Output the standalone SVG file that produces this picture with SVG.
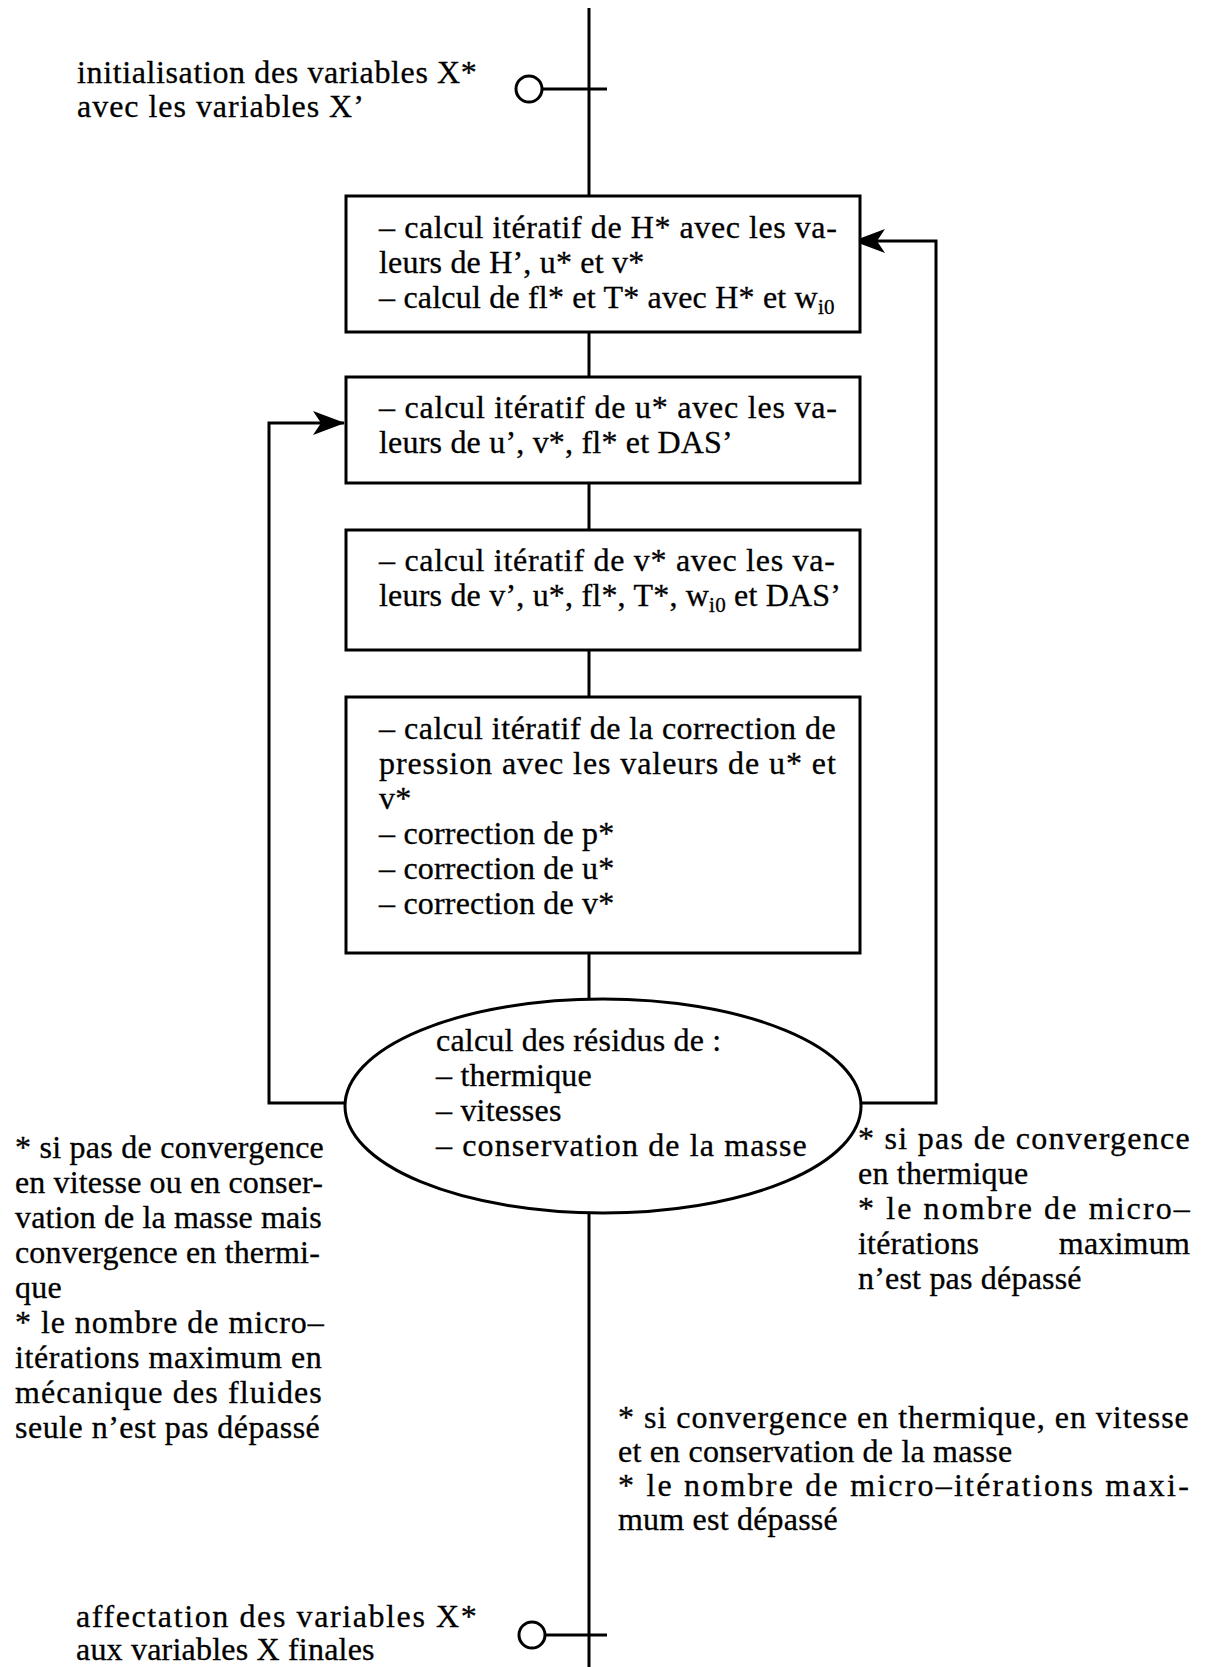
<svg xmlns="http://www.w3.org/2000/svg" width="1205" height="1667" viewBox="0 0 1205 1667">
<style>
.t{font-family:"Liberation Serif","Times New Roman",serif;font-size:32px;fill:#000;stroke:#000;stroke-width:0.3px;letter-spacing:0.2px}
.sub{font-size:21px}
.box{fill:#fff;stroke:#000;stroke-width:3}
.ln{fill:none;stroke:#000;stroke-width:3}
</style>
<defs>
<marker id="ah" viewBox="0 0 32 26" refX="31" refY="13" markerWidth="32" markerHeight="26" markerUnits="userSpaceOnUse" orient="auto">
<path d="M0,1 L32,13 L0,25 L8,13 Z" fill="#000"/>
</marker>
</defs>
<rect width="1205" height="1667" fill="#fff"/>

<g id="connectors">
<path class="ln" d="M589,8 V196"/>
<path class="ln" d="M589,332 V377"/>
<path class="ln" d="M589,483 V530"/>
<path class="ln" d="M589,650 V697"/>
<path class="ln" d="M589,953 V1000"/>
<path class="ln" d="M589,1212 V1667"/>
<path class="ln" d="M542,89 H607"/>
<path class="ln" d="M545,1635 H607"/>
<path class="ln" d="M345,1103 H269 V423 H344" marker-end="url(#ah)"/>
<path class="ln" d="M862,1103 H936 V241 H854" marker-end="url(#ah)"/>
</g>

<g id="start">
<circle cx="529" cy="89" r="13" fill="#fff" stroke="#000" stroke-width="3"/>
<text class="t" x="77" y="83" textLength="400" lengthAdjust="spacing">initialisation des variables X*</text>
<text class="t" x="77" y="117" textLength="287" lengthAdjust="spacing">avec les variables X’</text>
</g>

<g id="box1">
<rect class="box" x="346" y="196" width="514" height="136"/>
<text class="t" x="379" y="238" textLength="458" lengthAdjust="spacing">– calcul itératif de H* avec les va-</text>
<text class="t" x="379" y="273">leurs de  H’, u* et v*</text>
<text class="t" x="379" y="308">– calcul de fl* et T* avec H* et w<tspan class="sub" dy="6">i0</tspan></text>
</g>

<g id="box2">
<rect class="box" x="346" y="377" width="514" height="106"/>
<text class="t" x="379" y="418" textLength="458" lengthAdjust="spacing">– calcul itératif de u* avec les va-</text>
<text class="t" x="379" y="453">leurs de u’, v*, fl* et DAS’</text>
</g>

<g id="box3">
<rect class="box" x="346" y="530" width="514" height="120"/>
<text class="t" x="379" y="571" textLength="456" lengthAdjust="spacing">– calcul itératif de v* avec les va-</text>
<text class="t" x="379" y="606">leurs de v’, u*, fl*, T*, w<tspan class="sub" dy="6">i0</tspan><tspan dy="-6"> et DAS’</tspan></text>
</g>

<g id="box4">
<rect class="box" x="346" y="697" width="514" height="256"/>
<text class="t" x="379" y="739" textLength="457" lengthAdjust="spacing">– calcul itératif de la correction de</text>
<text class="t" x="379" y="774" textLength="457" lengthAdjust="spacing">pression avec les valeurs de u* et</text>
<text class="t" x="379" y="809">v*</text>
<text class="t" x="379" y="844">– correction de p*</text>
<text class="t" x="379" y="879">– correction de u*</text>
<text class="t" x="379" y="914">– correction de v*</text>
</g>

<g id="residus">
<ellipse cx="603" cy="1106" rx="258" ry="107" fill="#fff" stroke="#000" stroke-width="3"/>
<text class="t" x="436" y="1051">calcul des résidus de :</text>
<text class="t" x="436" y="1086">– thermique</text>
<text class="t" x="436" y="1121">– vitesses</text>
<text class="t" x="436" y="1156" textLength="371" lengthAdjust="spacing">– conservation de la masse</text>
</g>

<g id="note-left">
<text class="t" x="15" y="1158" textLength="309" lengthAdjust="spacing">* si pas de convergence</text>
<text class="t" x="15" y="1193" textLength="308" lengthAdjust="spacing">en vitesse ou en conser-</text>
<text class="t" x="15" y="1228" textLength="307" lengthAdjust="spacing">vation de la masse mais</text>
<text class="t" x="15" y="1263" textLength="305" lengthAdjust="spacing">convergence en thermi-</text>
<text class="t" x="15" y="1298">que</text>
<text class="t" x="15" y="1333" textLength="309" lengthAdjust="spacing">* le nombre de micro–</text>
<text class="t" x="15" y="1368" textLength="307" lengthAdjust="spacing">itérations maximum en</text>
<text class="t" x="15" y="1403" textLength="307" lengthAdjust="spacing">mécanique des fluides</text>
<text class="t" x="15" y="1438" textLength="305" lengthAdjust="spacing">seule n’est pas dépassé</text>
</g>

<g id="note-right">
<text class="t" x="858" y="1149" textLength="332" lengthAdjust="spacing">* si pas de convergence</text>
<text class="t" x="858" y="1184">en thermique</text>
<text class="t" x="858" y="1219" textLength="332" lengthAdjust="spacing">* le nombre de micro–</text>
<text class="t" x="858" y="1254">itérations</text>
<text class="t" x="1190" y="1254" text-anchor="end">maximum</text>
<text class="t" x="858" y="1289">n’est pas dépassé</text>
</g>

<g id="note-bottom">
<text class="t" x="618" y="1428" textLength="571" lengthAdjust="spacing">* si convergence en thermique, en vitesse</text>
<text class="t" x="618" y="1462">et en conservation de la masse</text>
<text class="t" x="618" y="1496" textLength="571" lengthAdjust="spacing">* le nombre de micro–itérations maxi-</text>
<text class="t" x="618" y="1530">mum est dépassé</text>
</g>

<g id="end">
<circle cx="532" cy="1635" r="13" fill="#fff" stroke="#000" stroke-width="3"/>
<text class="t" x="76" y="1627" textLength="401" lengthAdjust="spacing">affectation des variables X*</text>
<text class="t" x="76" y="1660">aux variables X finales</text>
</g>
</svg>
